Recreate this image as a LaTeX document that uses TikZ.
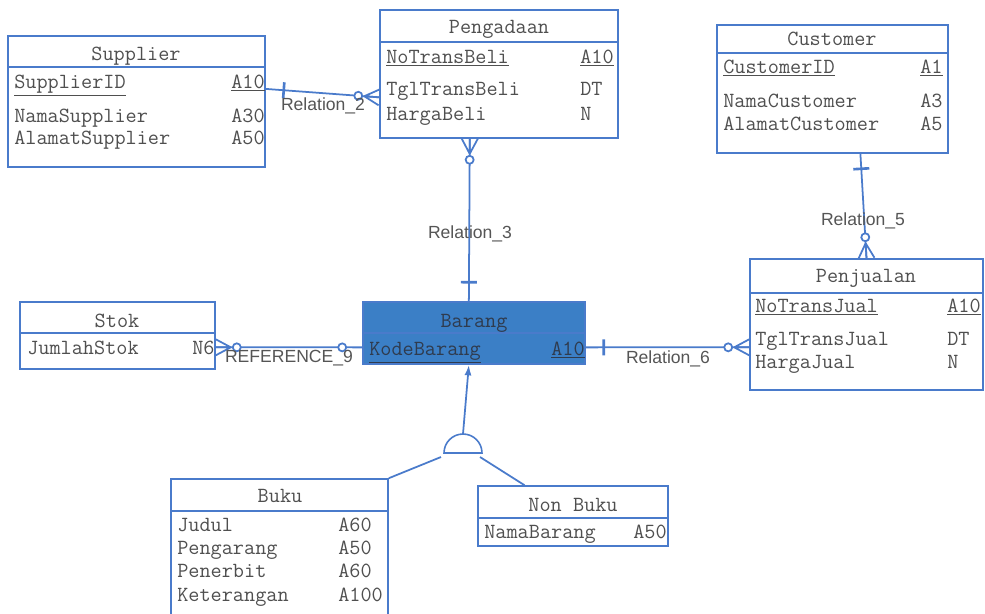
\documentclass[tikz,border=0pt]{standalone}
\usepackage{fontspec}
\setmainfont{Liberation Sans}
\usetikzlibrary{arrows.meta, calc, fit}
\definecolor{erblue}{HTML}{4A7BCB}
\definecolor{selfill}{HTML}{3B7FC6}
\definecolor{ertext}{HTML}{4F4F4F}
\definecolor{seltext}{HTML}{2F3B4E}
\definecolor{lbltext}{HTML}{555555}
\newcommand{\erfont}{\ttfamily\fontsize{12.3}{14}\selectfont}

% end symbols of the relations (local x points along the line)
\tikzset{
  pics/onebar/.style={code={\draw[erblue, line width=1.5pt] (#1,-8) -- (#1,8);}},
  pics/onebar/.default=-18,
  pics/ring/.style={code={\draw[erblue, line width=1pt, fill=white] (#1,0) circle (4);}},
  pics/ring/.default=-20,
  pics/many/.style={code={
    \draw[erblue, line width=1pt] (-15,0) -- (0,-8) (-15,0) -- (0,0) (-15,0) -- (0,8);
    \draw[erblue, line width=1pt, fill=white] (-21,0) circle (4);}},
}

\begin{document}
\begin{tikzpicture}[x=0.02cm, y=-0.02cm,
  entity/.style={draw=erblue, line width=0.9pt, fill=white, inner sep=0pt},
  selected/.style={entity, fill=selfill},
  erline/.style={erblue, line width=0.9pt},
  rel/.style={erblue, line width=1pt},
  endmark/.style={sloped, allow upside down},
  etitle/.style={font=\erfont, text=ertext, anchor=base, inner sep=0pt},
  attr/.style={font=\erfont, text=ertext, anchor=base west, inner sep=0pt},
  rellabel/.style={font=\fontsize{10}{12}\selectfont, text=lbltext, anchor=base, inner sep=0pt}]

\useasboundingbox (0,0) rectangle (985,613);

% Supplier
\node[entity, fit={(8,36) (265,167)}] (sup) {};
\draw[erline] (8,67) -- (265,67);
\node[etitle] (supT) at (136,60) {Supplier};
\node[attr] (sup1) at (14,88) {\underline{SupplierID}};
\node[attr] (sup1t) at (231,88) {\underline{A10}};
\node[attr] (sup2) at (14,122) {NamaSupplier};
\node[attr] (sup2t) at (231,122) {A30};
\node[attr] (sup3) at (14,144) {AlamatSupplier};
\node[attr] (sup3t) at (231,144) {A50};

% Pengadaan
\node[entity, fit={(380,10) (618,138)}] (peng) {};
\draw[erline] (380,42) -- (618,42);
\node[etitle] (pengT) at (499,33) {Pengadaan};
\node[attr] (peng1) at (386,63) {\underline{NoTransBeli}};
\node[attr] (peng1t) at (580,63) {\underline{A10}};
\node[attr] (peng2) at (386,95) {TglTransBeli};
\node[attr] (peng2t) at (580,95) {DT};
\node[attr] (peng3) at (386,120) {HargaBeli};
\node[attr] (peng3t) at (580,120) {N};

% Customer
\node[entity, fit={(717,25) (948,153)}] (cust) {};
\draw[erline] (717,53) -- (948,53);
\node[etitle] (custT) at (832,45) {Customer};
\node[attr] (cust1) at (723,73) {\underline{CustomerID}};
\node[attr] (cust1t) at (920,73) {\underline{A1}};
\node[attr] (cust2) at (723,107) {NamaCustomer};
\node[attr] (cust2t) at (920,107) {A3};
\node[attr] (cust3) at (723,130) {AlamatCustomer};
\node[attr] (cust3t) at (920,130) {A5};

% Penjualan
\node[entity, fit={(750,259) (983,390)}] (penj) {};
\draw[erline] (750,293) -- (983,293);
\node[etitle] (penjT) at (866,282) {Penjualan};
\node[attr] (penj1) at (755,312) {\underline{NoTransJual}};
\node[attr] (penj1t) at (947,312) {\underline{A10}};
\node[attr] (penj2) at (755,345) {TglTransJual};
\node[attr] (penj2t) at (947,345) {DT};
\node[attr] (penj3) at (755,368) {HargaJual};
\node[attr] (penj3t) at (947,368) {N};

% Stok
\node[entity, fit={(20,302) (215,369)}] (stok) {};
\draw[erline] (20,333) -- (215,333);
\node[etitle] (stokT) at (117,327) {Stok};
\node[attr] (stok1) at (27,354) {JumlahStok};
\node[attr] (stok1t) at (192,354) {N6};

% Barang (selected)
\node[selected, fit={(363,302) (585,364)}] (bar) {};
\draw[erline] (363,333) -- (585,333);
\node[etitle, text=seltext] (barT) at (474,327) {Barang};
\node[attr, text=seltext] (bar1) at (369,355) {\underline{KodeBarang}};
\node[attr, text=seltext] (bar1t) at (551,355) {\underline{A10}};

% Buku
\node[entity, fit={(171,479) (388,625)}] (buku) {};
\draw[erline] (171,511) -- (388,511);
\node[etitle] (bukuT) at (280,502) {Buku};
\node[attr] (buku1) at (177,531) {Judul};
\node[attr] (buku1t) at (338,531) {A60};
\node[attr] (buku2) at (177,554) {Pengarang};
\node[attr] (buku2t) at (338,554) {A50};
\node[attr] (buku3) at (177,577) {Penerbit};
\node[attr] (buku3t) at (338,577) {A60};
\node[attr] (buku4) at (177,601) {Keterangan};
\node[attr] (buku4t) at (338,601) {A100};

% Non Buku
\node[entity, fit={(478,486) (668,546)}] (nonbuku) {};
\draw[erline] (478,518) -- (668,518);
\node[etitle] (nonbukuT) at (573,511) {Non Buku};
\node[attr] (nonbuku1) at (484,538) {NamaBarang};
\node[attr] (nonbuku1t) at (633,538) {A50};

% Relations
\draw[rel] ($(sup.north east)!0.405!(sup.south east)$) -- ($(peng.north west)!0.68!(peng.south west)$)
  pic[pos=0, endmark] {onebar=18} pic[pos=1, endmark] {many};
\draw[rel] ($(bar.north west)!0.477!(bar.north east)$) -- ($(peng.south west)!0.378!(peng.south east)$)
  pic[pos=0, endmark] {onebar=19} pic[pos=1, endmark] {many};
\draw[rel] ($(cust.south west)!0.62!(cust.south east)$) -- (penj.north)
  pic[pos=0, endmark] {onebar=15} pic[pos=1, endmark] {many};
\draw[rel] ($(bar.north east)!0.726!(bar.south east)$) -- ($(penj.north west)!0.672!(penj.south west)$)
  pic[pos=0, endmark] {onebar=18} pic[pos=1, endmark] {many};
\draw[rel] ($(bar.north west)!0.726!(bar.south west)$) -- ($(stok.north east)!0.672!(stok.south east)$)
  pic[pos=0, endmark] {ring=20} pic[pos=1, endmark] {many};

\node[rellabel] (r2) at (323,110) {Relation\_2};
\node[rellabel] (r3) at (470,238) {Relation\_3};
\node[rellabel] (r5) at (863,225) {Relation\_5};
\node[rellabel] (r6) at (668,363) {Relation\_6};
\node[rellabel] (r9) at (289,362) {REFERENCE\_9};

% Subtype symbol
\coordinate (isa) at (463,434);
\coordinate (isaL) at (441,457);
\coordinate (isaR) at (480,457);
\draw[erline] (444,453) arc (180:360:19) -- cycle;
\draw[rel, {Latex[length=6pt, width=4pt]}-] ($(bar.south west)!0.477!(bar.south east)$) -- (isa);
\draw[rel] (isaL) -- (buku.north east);
\draw[rel] (isaR) -- ($(nonbuku.north west)!0.247!(nonbuku.north east)$);

\end{tikzpicture}
\end{document}
